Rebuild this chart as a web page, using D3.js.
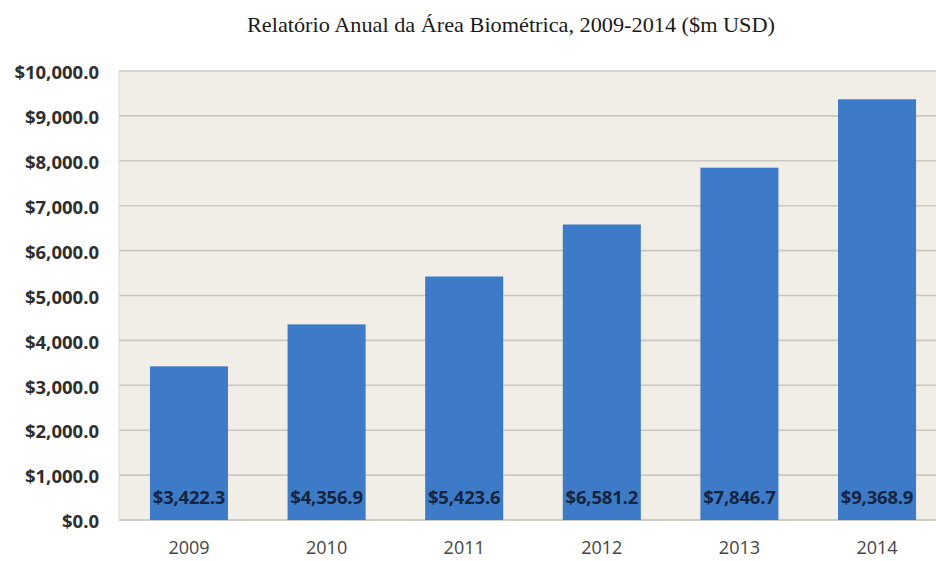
<!DOCTYPE html>
<html>
<head>
<meta charset="utf-8">
<script src="https://cdn.jsdelivr.net/npm/d3@7"></script>
<style>
  html, body { margin: 0; padding: 0; background: #ffffff; }
  svg { display: block; }
</style>
</head>
<body>
<svg id="chart" width="936" height="561"></svg>
<script>
// Annual revenue of the biometrics market, millions of USD
const years = ["2009", "2010", "2011", "2012", "2013", "2014"];
const revenue = [3422.3, 4356.9, 5423.6, 6581.2, 7846.7, 9368.9];
const yTicks = [0, 1000, 2000, 3000, 4000, 5000, 6000, 7000, 8000, 9000, 10000];
const title = "Relatório Anual da Área Biométrica, 2009-2014 ($m USD)";

const svg = d3.select("#chart");
const plot = { left: 119, right: 947, top: 71, bottom: 520 };

const x = d3.scaleBand()
  .domain(years)
  .range([plot.left, plot.right])
  .paddingInner(0.433)
  .paddingOuter(0.225);

const y = d3.scaleLinear()
  .domain([0, 10000])
  .range([plot.bottom, plot.top]);

const money = v => "$" + d3.format(",.1f")(v);

// Title
svg.append("text")
  .attr("x", 511)
  .attr("y", 32)
  .attr("text-anchor", "middle")
  .attr("textLength", 528)
  .attr("lengthAdjust", "spacingAndGlyphs")
  .style("font-family", "'Liberation Serif', 'Times New Roman', serif")
  .style("font-size", "21px")
  .style("fill", "#1a1a1a")
  .text(title);

// Plot background
svg.append("rect")
  .attr("x", plot.left)
  .attr("y", plot.top)
  .attr("width", plot.right - plot.left)
  .attr("height", plot.bottom - plot.top)
  .attr("fill", "#f0eee6");

// Horizontal gridlines
svg.append("g")
  .selectAll("line")
  .data(yTicks)
  .join("line")
  .attr("x1", plot.left)
  .attr("x2", plot.right)
  .attr("y1", d => y(d))
  .attr("y2", d => y(d))
  .attr("stroke", d => d === 0 ? "#c2c0b8" : "#cbc8bf")
  .attr("stroke-width", 1.6);

// Left edge of the plot area
svg.append("line")
  .attr("x1", plot.left).attr("x2", plot.left)
  .attr("y1", plot.top).attr("y2", plot.bottom)
  .attr("stroke", "#dcdad2")
  .attr("stroke-width", 1);

// Y axis labels
const yAxis = d3.axisLeft(y).tickValues(yTicks).tickFormat(money).tickSize(0).tickPadding(20);
const gy = svg.append("g")
  .attr("transform", `translate(${plot.left},0)`)
  .call(yAxis);
gy.select(".domain").remove();
gy.selectAll("text")
  .attr("dy", "0.42em")
  .style("font-family", "'Open Sans', 'DejaVu Sans', sans-serif")
  .style("font-weight", "bold")
  .style("font-size", "18.5px")
  .style("fill", "#2e2e2e");

// Bars
svg.append("g")
  .selectAll("rect")
  .data(years.map((yr, i) => ({ yr, v: revenue[i] })))
  .join("rect")
  .attr("x", d => x(d.yr))
  .attr("y", d => y(d.v))
  .attr("width", x.bandwidth())
  .attr("height", d => y(0) - y(d.v))
  .attr("fill", "#3d7bc8");

// Value labels at the foot of each bar
svg.append("g")
  .selectAll("text")
  .data(years.map((yr, i) => ({ yr, v: revenue[i] })))
  .join("text")
  .attr("x", d => x(d.yr) + x.bandwidth() / 2)
  .attr("y", 504)
  .attr("text-anchor", "middle")
  .style("font-family", "'Open Sans', 'DejaVu Sans', sans-serif")
  .style("font-weight", "bold")
  .style("font-size", "18.5px")
  .style("letter-spacing", "-0.2px")
  .style("fill", "#15243f")
  .text(d => money(d.v));

// X axis labels
const xAxis = d3.axisBottom(x).tickSize(0);
const gx = svg.append("g")
  .attr("transform", `translate(0,${plot.bottom})`)
  .call(xAxis);
gx.select(".domain").remove();
gx.selectAll("text")
  .attr("y", 34)
  .attr("dy", 0)
  .style("font-family", "'Open Sans', 'DejaVu Sans', sans-serif")
  .style("font-size", "18px")
  .style("fill", "#444");
</script>
</body>
</html>
